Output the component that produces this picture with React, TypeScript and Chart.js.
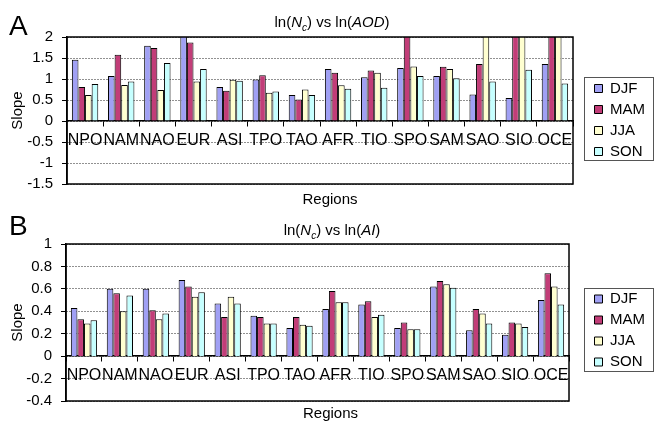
import React, { useEffect, useRef } from 'react';
import { Chart, registerables } from 'chart.js';

Chart.register(...registerables);

const FONT = "'Liberation Sans', Arial, Helvetica, sans-serif";

// ---- data ----
const REGIONS = ['NPO', 'NAM', 'NAO', 'EUR', 'ASI', 'TPO', 'TAO', 'AFR', 'TIO', 'SPO', 'SAM', 'SAO', 'SIO', 'OCE'];
const SEASONS = ['DJF', 'MAM', 'JJA', 'SON'];
const SEASON_COLORS = ['#A0A0F4', '#C23D78', '#FFFFD0', '#C6FFFF'];

// Panel A: ln(Nc) vs ln(AOD) slopes (bars above 2 run off the top of the plot)
const AOD_DJF = [1.46, 1.07, 1.79, 2.1, 0.81, 0.99, 0.62, 1.24, 1.04, 1.26, 1.07, 0.63, 0.55, 1.36];
const AOD_MAM = [0.81, 1.58, 1.74, 1.87, 0.72, 1.09, 0.51, 1.15, 1.2, 2.5, 1.29, 1.36, 2.5, 2.5];
const AOD_JJA = [0.62, 0.86, 0.74, 0.94, 0.98, 0.67, 0.75, 0.85, 1.15, 1.3, 1.24, 2.5, 2.5, 2.5];
const AOD_SON = [0.88, 0.94, 1.38, 1.24, 0.96, 0.7, 0.62, 0.77, 0.79, 1.07, 1.02, 0.94, 1.22, 0.89];

// Panel B: ln(Nc) vs ln(AI) slopes
const AI_DJF = [0.43, 0.6, 0.6, 0.68, 0.47, 0.36, 0.25, 0.42, 0.46, 0.25, 0.62, 0.23, 0.19, 0.5];
const AI_MAM = [0.33, 0.56, 0.41, 0.62, 0.35, 0.35, 0.35, 0.58, 0.49, 0.3, 0.67, 0.42, 0.3, 0.74];
const AI_JJA = [0.29, 0.4, 0.33, 0.53, 0.53, 0.29, 0.28, 0.48, 0.35, 0.24, 0.64, 0.38, 0.29, 0.62];
const AI_SON = [0.32, 0.54, 0.38, 0.57, 0.47, 0.29, 0.27, 0.48, 0.37, 0.24, 0.61, 0.29, 0.26, 0.46];

// y-axis tick ranges
const AOD_Y_RANGE = [-1.5, 2];
const AOD_Y_STEP = 0.5;
const AI_Y_RANGE = [-0.4, 1];
const AI_Y_STEP = 0.2;

// titles: [text, style] where style: '' normal, 'i' italic, 'is' italic subscript
const TITLE_A = [['ln(', ''], ['N', 'i'], ['c', 'is'], [') vs ln(', ''], ['AOD', 'i'], [')', '']];
const TITLE_B = [['ln(', ''], ['N', 'i'], ['c', 'is'], [') vs ln(', ''], ['AI', 'i'], [')', '']];
const X_TITLE = 'Regions';
const Y_TITLE = 'Slope';

const decorPlugin = {
  id: 'decor',
  afterLayout(chart: any, _args: any, o: any) {
    const lg = chart.legend;
    if (lg && o.legendTop != null) {
      const h = lg.bottom - lg.top;
      lg.top = o.legendTop;
      lg.bottom = o.legendTop + h;
    }
    const xt = chart.scales.xt;
    if (xt && o.xTitleShift) {
      xt.left += o.xTitleShift;
      xt.right += o.xTitleShift;
    }
  },
  afterDraw(chart: any, _args: any, o: any) {
    const { ctx, chartArea: ca } = chart;
    ctx.save();
    ctx.setLineDash([]);
    // plot frame
    ctx.strokeStyle = '#000';
    ctx.lineWidth = 1.5;
    ctx.strokeRect(ca.left, ca.top, ca.right - ca.left, ca.bottom - ca.top);
    // legend frame
    const lg = chart.legend;
    const hb = lg && lg.legendHitBoxes;
    if (hb && hb.length) {
      const f = hb[0];
      const l = hb[hb.length - 1];
      const x0 = Math.round(f.left - 11) + 0.5;
      const y0 = Math.round(f.top - 4) + 0.5;
      const x1 = Math.round(lg.right - 2) + 0.5;
      const y1 = Math.round(l.top + l.height + 1) + 0.5;
      ctx.lineWidth = 1;
      ctx.strokeStyle = '#555';
      ctx.strokeRect(x0, y0, x1 - x0, y1 - y0);
    }
    // panel letter
    ctx.fillStyle = '#000';
    ctx.textAlign = 'left';
    ctx.textBaseline = 'alphabetic';
    ctx.font = `28px ${FONT}`;
    ctx.fillText(o.letter, o.letterX, o.letterY);
    // mixed-style title
    const fontFor = (s: string) => `${s.includes('i') ? 'italic ' : ''}${s.includes('s') ? 10 : 15}px ${FONT}`;
    let w = 0;
    for (const [t, s] of o.title) {
      ctx.font = fontFor(s);
      w += ctx.measureText(t).width;
    }
    let x = o.titleX - w / 2;
    for (const [t, s] of o.title) {
      ctx.font = fontFor(s);
      ctx.fillText(t, x, o.titleY + (s.includes('s') ? 4 : 0));
      x += ctx.measureText(t).width;
    }
    ctx.restore();
  },
};

function buildChart(canvas: HTMLCanvasElement, p: any) {
  const tickFont = { size: 15, family: FONT };
  const catFont = { size: 16, family: FONT };
  return new Chart(canvas, {
    type: 'bar',
    data: {
      labels: REGIONS,
      datasets: SEASONS.map((s, i) => ({
        label: s,
        data: p.series[i],
        backgroundColor: SEASON_COLORS[i],
        borderColor: '#000',
        borderWidth: 1,
        clip: 0,
        categoryPercentage: 0.73,
        barPercentage: 1,
        xAxisID: 'x',
        yAxisID: 'y',
      })),
    },
    options: {
      responsive: false,
      animation: false,
      events: [],
      layout: { padding: { top: p.padTop, left: 6, right: 0, bottom: 0 } },
      scales: {
        x: {
          position: { y: 0 },
          grid: { display: true, drawOnChartArea: false, drawTicks: true, tickLength: 5, tickColor: '#000', tickWidth: 1, offset: true },
          border: { display: true, color: '#000', width: 1.5 },
          ticks: { autoSkip: false, maxRotation: 0, minRotation: 0, color: '#000', font: catFont, padding: 5 },
        },
        xt: {
          type: 'category',
          position: 'bottom',
          grid: { display: false, drawTicks: false },
          border: { display: false },
          ticks: { display: false },
          title: { display: true, text: X_TITLE, color: '#000', font: tickFont, padding: { top: p.xTitlePad, bottom: 0 } },
        },
        y: {
          position: 'left',
          min: p.yRange[0],
          max: p.yRange[1],
          afterFit: (s: any) => {
            s.width = p.yAxisWidth;
          },
          ticks: {
            stepSize: p.yStep,
            color: '#000',
            font: tickFont,
            padding: 9,
            callback: (v: any) => String(Math.round(Number(v) * 10) / 10),
          },
          grid: { color: '#222', lineWidth: 1, drawTicks: true, tickLength: 5, tickColor: '#000', tickWidth: 1 },
          border: { display: true, color: '#000', width: 1.5, dash: [1, 2] },
          title: { display: true, text: Y_TITLE, color: '#000', font: tickFont, padding: { top: 3, bottom: 0 } },
        },
        yr: {
          type: 'linear',
          position: 'right',
          grid: { display: false, drawTicks: false },
          border: { display: false },
          ticks: { display: false },
          afterFit: (s: any) => {
            s.width = p.rightGap;
          },
        },
      },
      plugins: {
        legend: {
          position: 'right',
          align: 'start',
          fullSize: true,
          labels: { boxWidth: 8, boxHeight: 8, padding: 6, color: '#000', font: tickFont },
        },
        tooltip: { enabled: false },
        title: { display: false },
        decor: {
          letter: p.letter,
          letterX: 9,
          letterY: p.letterY,
          title: p.title,
          titleX: 332,
          titleY: p.titleY,
          legendTop: p.legendTop,
          xTitleShift: p.xTitleShift,
        },
      } as any,
    } as any,
    plugins: [decorPlugin as any],
  });
}

const PANEL_A = {
  series: [AOD_DJF, AOD_MAM, AOD_JJA, AOD_SON],
  yRange: AOD_Y_RANGE,
  yStep: AOD_Y_STEP,
  padTop: 37,
  xTitlePad: 7,
  xTitleShift: 10,
  yAxisWidth: 61,
  rightGap: 15.5,
  legendTop: 75,
  letter: 'A',
  letterY: 35,
  title: TITLE_A,
  titleY: 27,
};

const PANEL_B = {
  series: [AI_DJF, AI_MAM, AI_JJA, AI_SON],
  yRange: AI_Y_RANGE,
  yStep: AI_Y_STEP,
  padTop: 35,
  xTitlePad: 4,
  xTitleShift: 13,
  yAxisWidth: 60,
  rightGap: 19.5,
  legendTop: 76.5,
  letter: 'B',
  letterY: 26,
  title: TITLE_B,
  titleY: 26,
};

export default function App() {
  const refA = useRef<HTMLCanvasElement>(null);
  const refB = useRef<HTMLCanvasElement>(null);
  useEffect(() => {
    const a = buildChart(refA.current as HTMLCanvasElement, PANEL_A);
    const b = buildChart(refB.current as HTMLCanvasElement, PANEL_B);
    return () => {
      a.destroy();
      b.destroy();
    };
  }, []);
  return (
    <div style={{ position: 'absolute', left: 0, top: 0, width: 655, height: 423, background: '#fff', overflow: 'hidden' }}>
      <canvas ref={refA} width={655} height={209} style={{ position: 'absolute', left: 0, top: 0, width: 655, height: 209 }} />
      <canvas ref={refB} width={655} height={214} style={{ position: 'absolute', left: 0, top: 209, width: 655, height: 214 }} />
    </div>
  );
}
